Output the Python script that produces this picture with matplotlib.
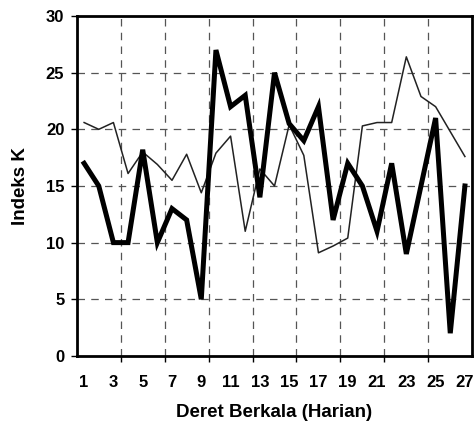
import matplotlib
matplotlib.use("Agg")
import matplotlib.pyplot as plt
import numpy as np

days = list(range(1, 28))
thick_series = [17, 15, 10, 10, 18.2, 10, 13, 12, 5, 27, 22, 23, 14, 25, 20.5, 19, 22, 12, 17, 15, 11, 17, 9, 15, 21, 2, 15]
thin_series = [20.6, 20, 20.6, 16.1, 18, 16.9, 15.5, 17.8, 14.4, 17.9, 19.4, 11, 16.5, 15, 20.4, 17.7, 9.1, 9.7, 10.4, 20.3, 20.6, 20.6, 26.4, 22.9, 22, 19.8, 17.6]
yticks = [0, 5, 10, 15, 20, 25, 30]
xtick_labels = [1, 3, 5, 7, 9, 11, 13, 15, 17, 19, 21, 23, 25, 27]

plt.rcParams['font.family'] = ['Liberation Sans', 'DejaVu Sans']
plt.rcParams['font.weight'] = 'bold'

fig = plt.figure(figsize=(4.77, 4.34), dpi=100)
ax = fig.add_axes([0.161, 0.180, 0.829, 0.783])

ax.plot(days, thin_series, color='#222222', lw=1.1, zorder=3)
ax.plot(days, thick_series, color='black', lw=3.6, solid_joinstyle='miter', zorder=4)

ax.set_xlim(0.5, 27.5)
ax.set_ylim(0, 30)
ax.set_yticks(yticks)
ax.set_yticklabels([str(v) for v in yticks], fontsize=12, fontweight='bold')

# category labels every 2, tick marks / grid every 3 between categories
ax.set_xticks(xtick_labels)
ax.set_xticklabels([str(v) for v in xtick_labels], fontsize=12, fontweight='bold')
ax.tick_params(axis='x', which='major', length=0, pad=14)
bounds = np.arange(3.5, 27, 3)
ax.set_xticks(bounds, minor=True)
ax.tick_params(axis='x', which='minor', length=4, width=1, direction='out')
ax.tick_params(axis='y', length=4, width=1, direction='out', pad=5)

for b in bounds:
    ax.axvline(b, color='#555555', lw=0.9, ls=(0, (6, 5)), zorder=1)
for v in yticks[1:-1]:
    ax.axhline(v, color='#555555', lw=0.9, ls=(0, (6, 5)), zorder=1)

for s in ax.spines.values():
    s.set_linewidth(2)
    s.set_color('black')

ax.set_ylabel('Indeks K', fontsize=13.5, fontweight='bold', labelpad=12)
ax.set_xlabel('Deret Berkala (Harian)', fontsize=13.5, fontweight='bold', labelpad=10)

fig.savefig('out.png', dpi=100)
